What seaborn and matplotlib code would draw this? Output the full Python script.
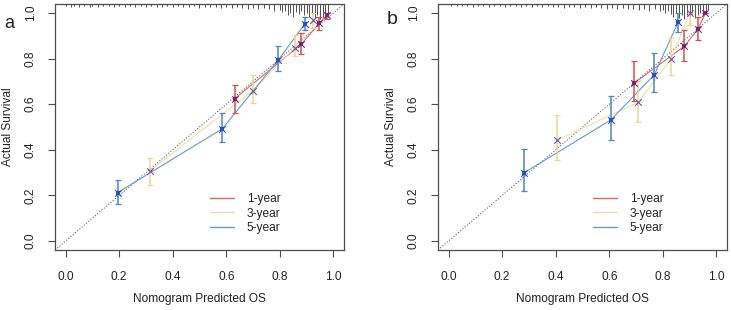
import numpy as np
import pandas as pd
import matplotlib
matplotlib.use("Agg")
import matplotlib.pyplot as plt
import seaborn as sns

# ---------------- data ----------------
years = ["1-year", "3-year", "5-year"]
ticks = [0.0, 0.2, 0.4, 0.6, 0.8, 1.0]
tick_labels = ["0.0", "0.2", "0.4", "0.6", "0.8", "1.0"]

# panel a
a1_x = [0.631, 0.881, 0.948, 0.975]
a1_y = [0.624, 0.864, 0.956, 0.990]
a1_lo = [0.561, 0.821, 0.927, 0.975]
a1_hi = [0.685, 0.912, 0.985, 1.000]

a3_x = [0.315, 0.700, 0.856, 0.925]
a3_y = [0.309, 0.660, 0.849, 0.968]
a3_lo = [0.246, 0.605, 0.810, 0.935]
a3_hi = [0.363, 0.729, 0.905, 1.000]

a5_x = [0.194, 0.585, 0.795, 0.894]
a5_y = [0.212, 0.492, 0.795, 0.953]
a5_lo = [0.163, 0.432, 0.748, 0.924]
a5_hi = [0.268, 0.561, 0.857, 0.982]

# panel b
b1_x = [0.693, 0.880, 0.932, 0.959]
b1_y = [0.693, 0.854, 0.930, 1.000]
b1_lo = [0.612, 0.791, 0.883, 1.000]
b1_hi = [0.791, 0.927, 0.982, 1.000]

b3_x = [0.404, 0.708, 0.832, 0.900]
b3_y = [0.441, 0.609, 0.800, 1.000]
b3_lo = [0.356, 0.524, 0.729, 0.950]
b3_hi = [0.553, 0.700, 0.890, 1.000]

b5_x = [0.283, 0.606, 0.768, 0.857]
b5_y = [0.300, 0.531, 0.729, 0.959]
b5_lo = [0.221, 0.444, 0.652, 0.915]
b5_hi = [0.403, 0.638, 0.824, 1.000]

# spike histogram of predictions (top of panels)
rug_a_x = [0.00, 0.02, 0.03, 0.05, 0.07, 0.09, 0.10, 0.12, 0.14, 0.16,
           0.18, 0.20, 0.22, 0.24, 0.26, 0.28, 0.30, 0.32, 0.34, 0.36,
           0.38, 0.40, 0.42, 0.44, 0.46, 0.48, 0.50, 0.52, 0.54, 0.56,
           0.58, 0.60, 0.62, 0.64, 0.66, 0.68, 0.70, 0.72, 0.74, 0.76,
           0.78, 0.80, 0.81, 0.82, 0.83, 0.84, 0.85, 0.86, 0.87, 0.88,
           0.89, 0.90, 0.91, 0.92, 0.93, 0.94, 0.95, 0.96, 0.97, 0.98]
rug_a_h = [0.010, 0.012, 0.010, 0.012, 0.010, 0.012, 0.010, 0.012, 0.010, 0.010,
           0.014, 0.010, 0.012, 0.010, 0.014, 0.010, 0.012, 0.010, 0.012, 0.014,
           0.010, 0.012, 0.010, 0.014, 0.012, 0.010, 0.016, 0.012, 0.014, 0.012,
           0.016, 0.014, 0.018, 0.014, 0.016, 0.020, 0.016, 0.022, 0.018, 0.024,
           0.030, 0.026, 0.036, 0.030, 0.050, 0.040, 0.058, 0.035, 0.045, 0.030,
           0.050, 0.040, 0.055, 0.045, 0.060, 0.050, 0.065, 0.055, 0.060, 0.050]

rug_b_x = [0.01, 0.03, 0.05, 0.07, 0.09, 0.11, 0.13, 0.15, 0.17, 0.19,
           0.21, 0.23, 0.25, 0.27, 0.29, 0.31, 0.33, 0.35, 0.37, 0.39,
           0.41, 0.43, 0.45, 0.47, 0.49, 0.51, 0.53, 0.55, 0.57, 0.59,
           0.61, 0.63, 0.65, 0.67, 0.69, 0.71, 0.73, 0.75, 0.77, 0.79,
           0.80, 0.81, 0.82, 0.83, 0.84, 0.85, 0.86, 0.87, 0.88, 0.89,
           0.90, 0.91, 0.92, 0.93, 0.94, 0.95, 0.96, 0.97]
rug_b_h = [0.008, 0.010, 0.008, 0.010, 0.012, 0.008, 0.010, 0.012, 0.010, 0.008,
           0.012, 0.010, 0.010, 0.012, 0.010, 0.014, 0.010, 0.012, 0.010, 0.014,
           0.012, 0.016, 0.012, 0.014, 0.016, 0.012, 0.018, 0.014, 0.016, 0.020,
           0.016, 0.022, 0.018, 0.024, 0.020, 0.026, 0.022, 0.030, 0.024, 0.032,
           0.026, 0.038, 0.030, 0.045, 0.055, 0.040, 0.060, 0.048, 0.065, 0.050,
           0.058, 0.045, 0.060, 0.050, 0.040, 0.035, 0.030, 0.025]

# ---------------- style ----------------
sns.set_theme(style="white")
plt.rcParams["font.family"] = ["Liberation Sans", "DejaVu Sans"]

line_cols = {"1-year": "#DA6862", "3-year": "#F3DCAA", "5-year": "#6699C8"}
bar_cols = {"1-year": "#D4504C", "3-year": "#EFD58F", "5-year": "#4A86C0"}
sq_cols = {"1-year": "#8C1C6A", "3-year": None, "5-year": "#2453C4"}
x_cols = {"1-year": "#6B2A86", "3-year": "#6A52A6", "5-year": "#2F4FB0"}
txt = "#222222"
frame = "#4d4d4d"

fig = plt.figure(figsize=(7.31, 3.10), dpi=100)
ax_a = fig.add_axes([55 / 731, 1 - 250 / 310, 289 / 731, 246 / 310])
ax_b = fig.add_axes([438 / 731, 1 - 250 / 310, 289 / 731, 246 / 310])

panels = [
    (ax_a, "a", [(a1_x, a1_y, a1_lo, a1_hi), (a3_x, a3_y, a3_lo, a3_hi), (a5_x, a5_y, a5_lo, a5_hi)],
     rug_a_x, rug_a_h),
    (ax_b, "b", [(b1_x, b1_y, b1_lo, b1_hi), (b3_x, b3_y, b3_lo, b3_hi), (b5_x, b5_y, b5_lo, b5_hi)],
     rug_b_x, rug_b_h),
]

for ax, letter, series, rx, rh in panels:
    lo_lim, hi_lim = -0.04, 1.04
    ax.set_xlim(lo_lim, hi_lim)
    ax.set_ylim(lo_lim, hi_lim)
    # diagonal reference
    ax.plot([lo_lim, hi_lim], [lo_lim, hi_lim], color="#555555", lw=0.7,
            linestyle=(0, (1.2, 1.8)), zorder=1)
    # spike histogram
    ax.vlines(rx, [hi_lim - h for h in rh], hi_lim, color="#333333", lw=0.6,
              zorder=2, clip_on=False)

    rows = []
    for yr, (xs, ys, los, his) in zip(years, series):
        for xv, yv in zip(xs, ys):
            rows.append({"pred": xv, "obs": yv, "year": yr})
    df = pd.DataFrame(rows)
    sns.lineplot(data=df, x="pred", y="obs", hue="year", hue_order=years,
                 palette=line_cols, sort=False, estimator=None, lw=0.8,
                 ax=ax, legend=False, zorder=3)

    for yr, (xs, ys, los, his) in zip(years, series):
        yerr = [np.array(ys) - np.array(los), np.array(his) - np.array(ys)]
        ax.errorbar(xs, ys, yerr=yerr, fmt="none", ecolor=bar_cols[yr],
                    elinewidth=1.1, capsize=2.4, capthick=0.9, zorder=4)
        if sq_cols[yr] is not None:
            ax.scatter(xs, ys, marker="s", s=10, color=sq_cols[yr],
                       linewidths=0, zorder=5)
        ax.scatter(xs, ys, marker="x", s=22, color=x_cols[yr],
                   linewidths=0.8, zorder=6)

    # legend
    handles = [plt.Line2D([], [], color=line_cols[y], lw=1.0) for y in years]
    ax.legend(handles, years, loc="upper left", bbox_to_anchor=(0.535, 0.232),
              frameon=False, fontsize=8.6, handlelength=2.0, handletextpad=1.1,
              labelspacing=0.22, borderaxespad=0, borderpad=0,
              labelcolor=txt)

    ax.set_xticks(ticks)
    ax.set_xticklabels(tick_labels)
    ax.set_yticks(ticks)
    ax.set_yticklabels(tick_labels, rotation=90, va="center")
    ax.tick_params(axis="both", direction="out", length=5, width=0.8,
                   color=frame, labelsize=8.6, labelcolor=txt,
                   bottom=True, left=True)
    ax.tick_params(axis="x", pad=10)
    ax.tick_params(axis="y", pad=8)
    for sp in ax.spines.values():
        sp.set_visible(True)
        sp.set_color(frame)
        sp.set_linewidth(0.9)
    ax.set_xlabel("Nomogram Predicted OS", fontsize=8.6, color=txt, labelpad=7)
    ax.set_ylabel("Actual Survival", fontsize=8.6, color=txt, labelpad=8)
    ax.grid(False)

fig.text(9 / 731, 1 - 23 / 310, "a", fontsize=13, color=txt, ha="center", va="center")
fig.text(392 / 731, 1 - 20 / 310, "b", fontsize=14, color=txt, ha="center", va="center")

fig.savefig("out.png", dpi=100, facecolor="white")
